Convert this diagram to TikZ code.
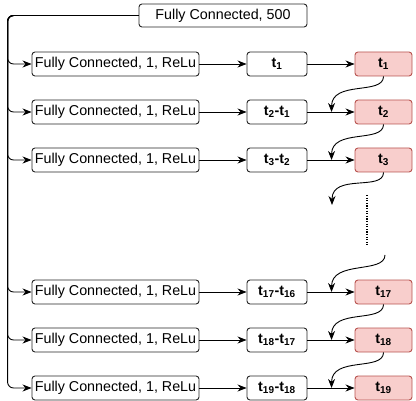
\documentclass[tikz,border=0pt]{standalone}
\usepackage{fontspec}
\setmainfont{Liberation Sans}
\usetikzlibrary{arrows.meta}
\definecolor{outfill}{HTML}{F8CECC}
\definecolor{outline}{HTML}{B85450}
\newcommand\boxfont{\fontsize{14.3}{17}\selectfont}
\begin{document}
\begin{tikzpicture}[
        x=1pt, y=1pt,
        box/.style = {draw=black!85, rounded corners=3pt, minimum height=24pt, inner sep=0pt, line width=0.9pt},
        fc/.style  = {box, minimum width=167pt, font=\boxfont},
        dt/.style  = {box, minimum width=60pt, font=\boxfont\bfseries},
        res/.style = {box, minimum width=57pt, fill=outfill, draw=outline, font=\boxfont\bfseries},
        arr/.style = {-{Stealth[length=9pt,width=7pt]}, line width=0.9pt}
    ]
        \useasboundingbox (0,0) rectangle (416,400);
        \node[box, minimum width=168pt, minimum height=23pt, font=\boxfont] (fc500) at (223,384.5) {Fully Connected, 500};
        % one row per time step
        \foreach \n/\y/\d in {1/336/{t\textsubscript{1}},
                              2/288/{t\textsubscript{2}-t\textsubscript{1}},
                              3/240/{t\textsubscript{3}-t\textsubscript{2}},
                              17/108/{t\textsubscript{17}-t\textsubscript{16}},
                              18/60/{t\textsubscript{18}-t\textsubscript{17}},
                              19/12/{t\textsubscript{19}-t\textsubscript{18}}} {
            \node[fc] (fc\n) at (115.5,\y) {Fully Connected, 1, ReLu};
            \node[dt] (diff\n) at (277,\y) {\d};
            \node[res] (out\n) at (383.5,\y) {t\textsubscript{\n}};
            \draw[arr, rounded corners=6pt] (fc500.west) -| ([xshift=-24pt]fc\n.west) -- (fc\n.west);
            \draw[arr] (fc\n) -- (diff\n);
            \draw[arr] (diff\n) -- (out\n);
        }
        % running sum
        \draw[arr] (out1.south) .. controls +(0,-19) and +(0,32) .. ([xshift=-23pt]out2.west);
        \draw[arr] (out2.south) .. controls +(0,-19) and +(0,32) .. ([xshift=-23pt]out3.west);
        \coordinate (gapA) at (332,195);
        \draw[arr] (out3.south) .. controls +(0,-19) and +(0,32) .. (gapA);
        \draw[line width=1.1pt, dash pattern=on 1.3pt off 1.3pt] (367,205) -- (367,155);
        \coordinate (gapB) at (385,145);
        \draw[arr] (gapB) .. controls +(0,-19) and +(0,32) .. ([xshift=-23pt]out17.west);
        \draw[arr] (out17.south) .. controls +(0,-19) and +(0,32) .. ([xshift=-23pt]out18.west);
        \draw[arr] (out18.south) .. controls +(0,-19) and +(0,32) .. ([xshift=-23pt]out19.west);
    \end{tikzpicture}
\end{document}
